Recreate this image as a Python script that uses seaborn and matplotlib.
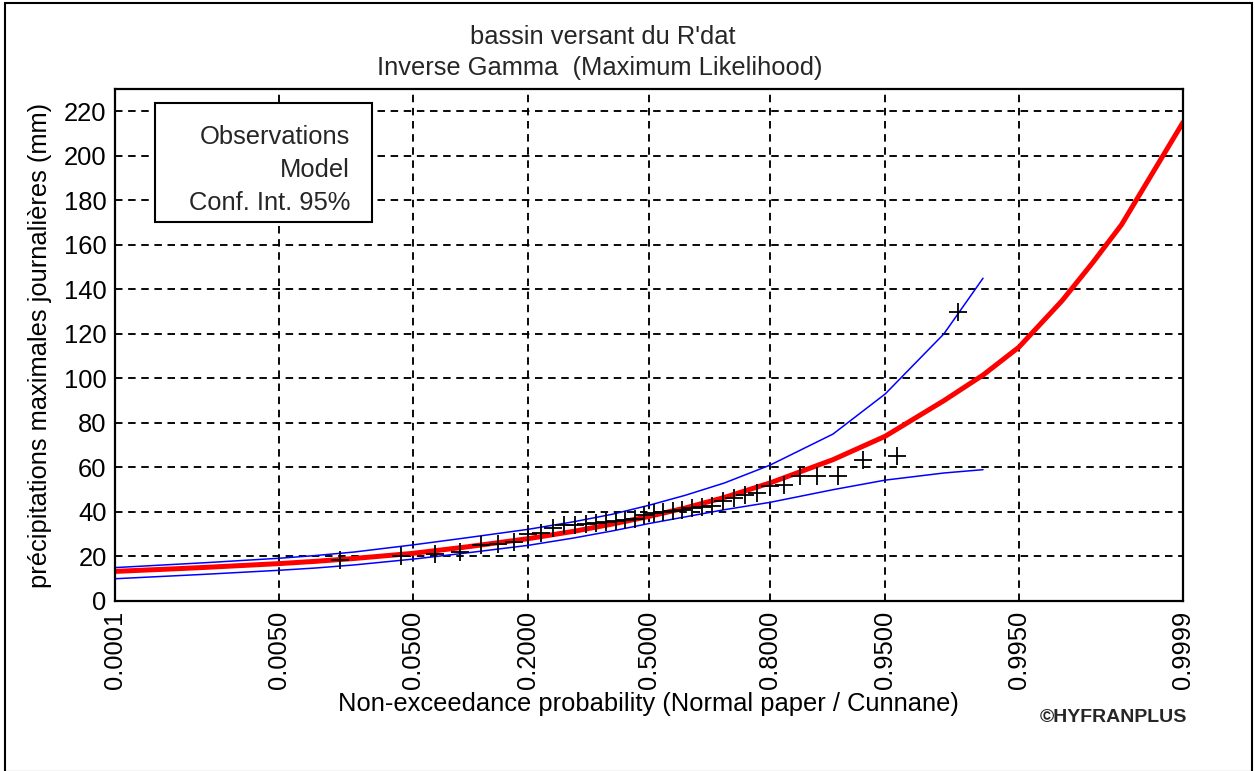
from statistics import NormalDist

import numpy as np
import matplotlib
matplotlib.use("Agg")
import matplotlib.pyplot as plt
from matplotlib.patches import Rectangle
from matplotlib.ticker import FixedLocator, FixedFormatter, MultipleLocator, NullLocator
import seaborn as sns

# ---------------------------------------------------------------- texts
title_lines = ["bassin versant du R'dat", "Inverse Gamma  (Maximum Likelihood)"]
x_label = "Non-exceedance probability (Normal paper / Cunnane)"
y_label = "précipitations maximales journalières (mm)"
legend_labels = ["Observations", "Model", "Conf. Int. 95%"]
credit = "©HYFRANPLUS"

# ---------------------------------------------------------------- axes ticks
prob_ticks = [0.0001, 0.005, 0.05, 0.2, 0.5, 0.8, 0.95, 0.995, 0.9999]
prob_tick_labels = ["0.0001", "0.0050", "0.0500", "0.2000", "0.5000",
                    "0.8000", "0.9500", "0.9950", "0.9999"]
y_ticks = [0, 20, 40, 60, 80, 100, 120, 140, 160, 180, 200, 220]

# ---------------------------------------------------------------- data
# annual maximum daily rainfall (mm), sorted
observed_mm = [18.5, 20.0, 21.0, 22.0, 25.0, 25.6, 26.5, 30.0, 30.6, 33.0,
               34.0, 34.3, 34.5, 35.0, 35.5, 36.0, 36.5, 37.0, 38.8, 39.6,
               40.0, 40.5, 41.0, 41.8, 42.2, 42.5, 45.0, 46.3, 47.8, 48.5,
               51.5, 52.3, 56.0, 56.0, 56.0, 63.5, 65.0, 130.0]

# fitted inverse gamma quantiles
model_prob = [0.0001, 0.0005, 0.001, 0.005, 0.01, 0.02, 0.05, 0.1, 0.2, 0.3,
              0.4, 0.5, 0.6, 0.7, 0.8, 0.9, 0.95, 0.98, 0.99, 0.995,
              0.998, 0.999, 0.9995, 0.9999]
model_mm = [13.3, 14.5, 15.1, 16.8, 17.8, 19.1, 21.4, 24.2, 28.0, 31.3,
            34.6, 38.0, 41.8, 46.5, 53.0, 63.5, 74.0, 90.0, 101.5, 114.0,
            135.0, 152.0, 169.0, 215.0]

# 95 % confidence band
ci_prob = [0.0001, 0.001, 0.005, 0.01, 0.02, 0.05, 0.1, 0.2, 0.3,
           0.4, 0.5, 0.6, 0.7, 0.8, 0.9, 0.95, 0.98, 0.99]
ci_upper_mm = [15.0, 17.2, 19.2, 20.4, 22.0, 25.2, 28.3, 32.2, 35.6,
               39.0, 43.0, 47.5, 53.0, 61.0, 75.0, 93.0, 120.0, 145.0]
ci_lower_mm = [10.0, 12.0, 13.8, 14.8, 16.2, 18.8, 21.5, 25.0, 28.3,
               31.5, 34.8, 37.8, 41.0, 44.3, 50.0, 54.3, 57.5, 59.0]

# Cunnane plotting positions for the sorted sample
n_obs = len(observed_mm)
obs_prob = [(i - 0.4) / (n_obs + 0.2) for i in range(1, n_obs + 1)]

# ---------------------------------------------------------------- normal paper scale
_nd = NormalDist()
_ppf = np.vectorize(_nd.inv_cdf, otypes=[float])
_cdf = np.vectorize(_nd.cdf, otypes=[float])


def to_normal(p):
    p = np.clip(np.asarray(p, dtype=float), 1e-12, 1 - 1e-12)
    return _ppf(p)


def from_normal(z):
    return _cdf(np.asarray(z, dtype=float))


# ---------------------------------------------------------------- figure
W, H = 1255, 771
FS = 18.4
sns.set_theme(style="white")
plt.rcParams["font.family"] = ["Liberation Sans", "DejaVu Sans"]


def fx(px):
    return px / W


def fy(py):
    return 1 - py / H


fig = plt.figure(figsize=(W / 100, H / 100), dpi=100, facecolor="white")
left, right, top, bottom = 115, 1183, 89, 601
ax = fig.add_axes([fx(left), fy(bottom), fx(right - left), (bottom - top) / H])
ax.set_facecolor("white")
ax.set_xscale("function", functions=(to_normal, from_normal))

sns.lineplot(x=ci_prob, y=ci_upper_mm, color="#0000ff", linewidth=1.1,
             sort=False, estimator=None, ax=ax)
sns.lineplot(x=ci_prob, y=ci_lower_mm, color="#0000ff", linewidth=1.1,
             sort=False, estimator=None, ax=ax)
sns.lineplot(x=model_prob, y=model_mm, color="#ff0000", linewidth=3.6,
             sort=False, estimator=None, ax=ax)
sns.scatterplot(x=obs_prob, y=observed_mm, marker="+", s=160, color="black",
                linewidth=1.3, ax=ax, zorder=5)

ax.set_xlim(0.0001, 0.9999)
ax.set_ylim(0, 230)

ax.xaxis.set_major_locator(FixedLocator(prob_ticks))
ax.xaxis.set_major_formatter(FixedFormatter(prob_tick_labels))
ax.xaxis.set_minor_locator(NullLocator())
ax.yaxis.set_major_locator(FixedLocator(y_ticks))
ax.yaxis.set_minor_locator(MultipleLocator(10))

ax.tick_params(axis="both", which="major", direction="inout", length=12,
               width=1.3, color="black", labelsize=FS, labelcolor="black")
ax.tick_params(axis="y", which="minor", direction="inout", length=6,
               width=1.1, color="black")
ax.tick_params(axis="x", which="major", pad=1)
ax.tick_params(axis="y", which="major", pad=0)
plt.setp(ax.get_xticklabels(), rotation=90, va="top", ha="center")

ax.grid(True, which="major", color="black", linestyle=(0, (4, 3)),
        linewidth=1.35)
ax.set_axisbelow(True)
for sp in ax.spines.values():
    sp.set_color("black")
    sp.set_linewidth(1.6)

ax.set_xlabel(x_label, fontsize=FS, color="black", ha="center", va="center")
ax.xaxis.set_label_coords((648 - left) / (right - left), (bottom - 704) / (bottom - top))
ax.set_ylabel(y_label, fontsize=FS, color="black", ha="center", va="center")
ax.yaxis.set_label_coords((40 - left) / (right - left), (bottom - 345) / (bottom - top))

# titles
fig.text(fx(603), fy(37), title_lines[0], fontsize=FS, ha="center", va="center")
fig.text(fx(600), fy(68), title_lines[1], fontsize=FS, ha="center", va="center")

# legend box with right aligned entries
fig.patches.append(Rectangle((fx(155), fy(222)), fx(372 - 155), (222 - 103) / H,
                             transform=fig.transFigure, facecolor="white",
                             edgecolor="black", linewidth=1.5, zorder=10))
for label, py in zip(legend_labels, [137, 170, 203]):
    fig.text(fx(350), fy(py), label, fontsize=FS, ha="right", va="center", zorder=11)

fig.text(fx(1113), fy(717), credit, fontsize=14, fontweight="bold",
         ha="center", va="center")

# outer frame
fig.patches.append(Rectangle((fx(5), fy(772)), fx(1252 - 5), (772 - 3) / H,
                             transform=fig.transFigure, facecolor="none",
                             edgecolor="black", linewidth=1.5))

fig.savefig("out.png", dpi=100, facecolor="white")
